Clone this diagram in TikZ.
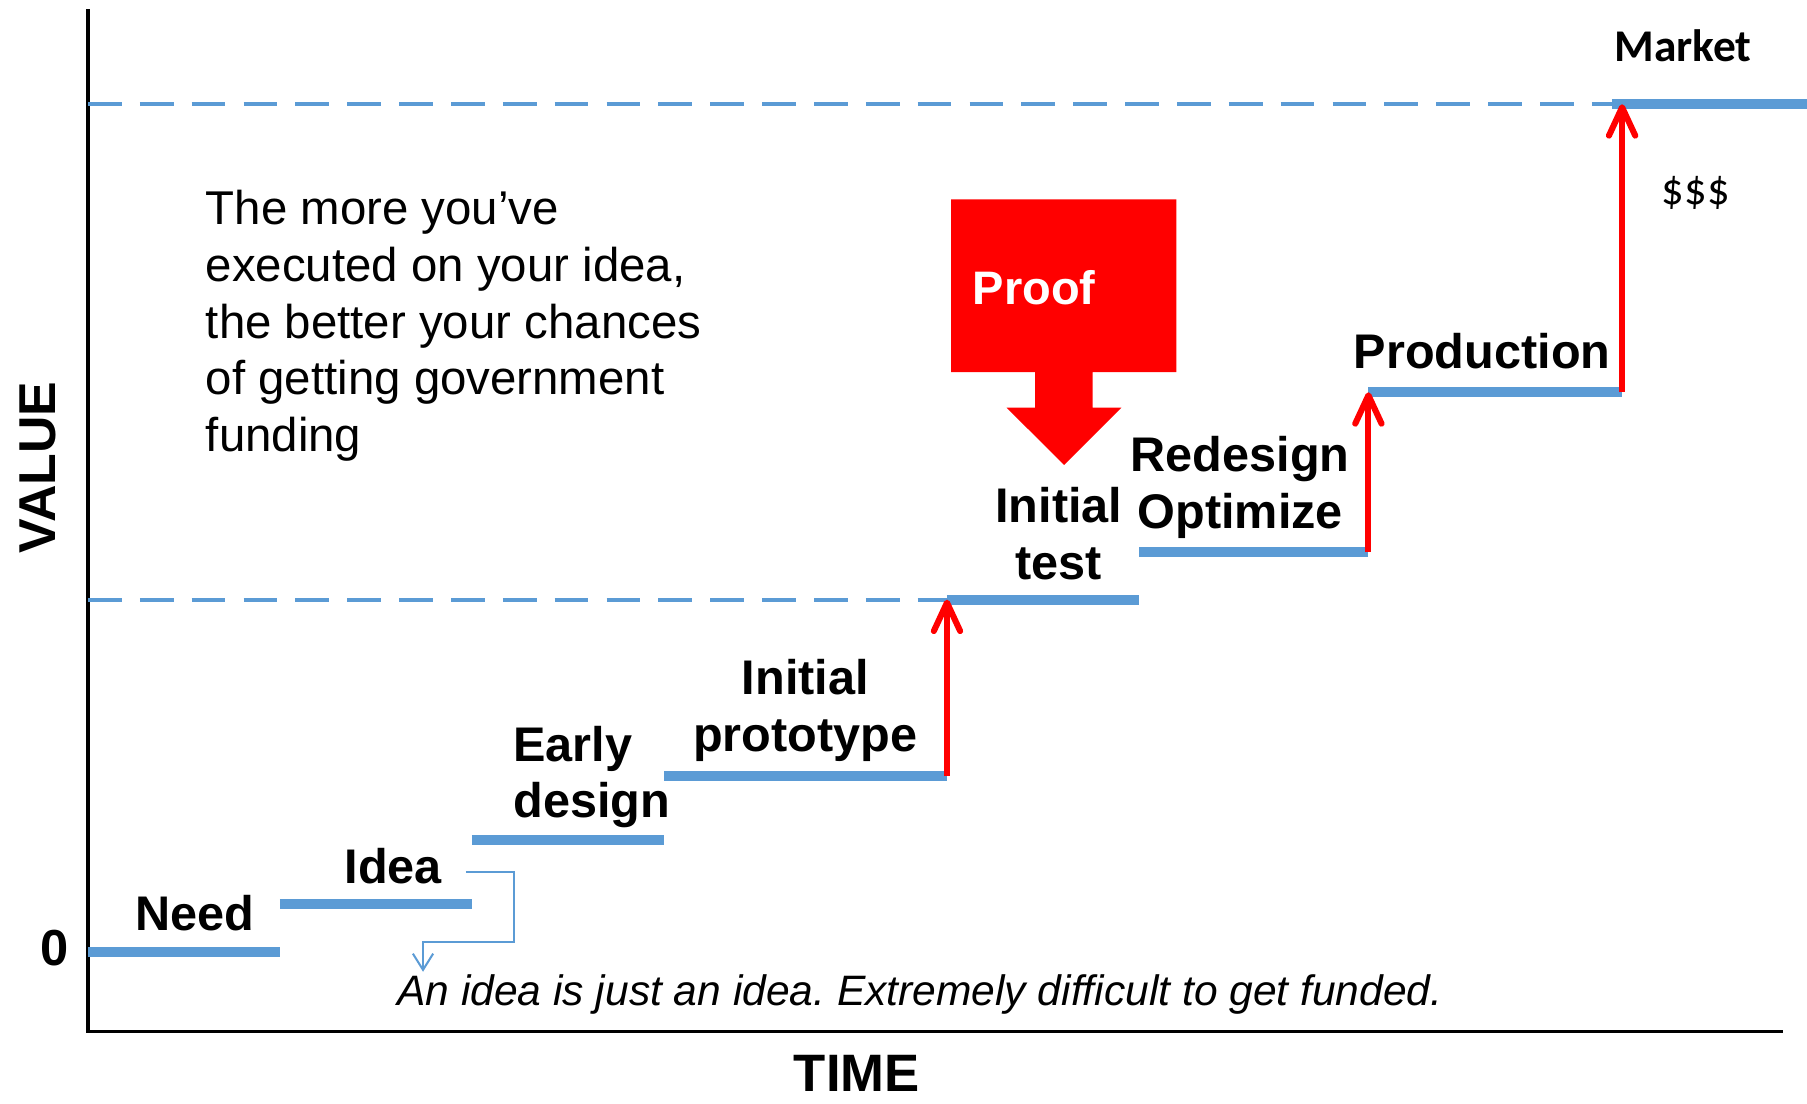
\documentclass[tikz,border=0pt]{standalone}
\usepackage{fontspec}
\setmainfont{Liberation Sans}
\newfontfamily\califont{Carlito}
\usetikzlibrary{positioning, arrows.meta}
\definecolor{stepblue}{RGB}{91,155,213}
\definecolor{proofred}{RGB}{255,0,0}
\frenchspacing
\tikzset{axisln/.style={draw=black, line width=0.75pt}}
\tikzset{stp/.style={draw=stepblue, line width=2.5pt}}
\tikzset{lvl/.style={draw=stepblue, line width=1pt, dash pattern=on 8.3pt off 4.5pt}}
\tikzset{rise/.style={draw=proofred, line width=1.5pt, -{Straight Barb[length=7pt, width=6.5pt, round]}}}
\tikzset{callout/.style={draw=stepblue, line width=0.5pt, -{Straight Barb[length=4pt, width=5pt]}}}
\tikzset{lbl/.style={inner sep=0, align=center, font=\fontsize{12}{14}\selectfont\bfseries}}
\tikzset{body/.style={inner sep=0, align=left, font=\fontsize{11.7}{14}\selectfont}}
\tikzset{note/.style={inner sep=0, font=\fontsize{10.5}{12}\selectfont\itshape}}

\begin{document}
\begin{tikzpicture}[x=0.01cm, y=-0.01cm]
  \useasboundingbox (0,0) rectangle (1568.5,957.5);
  % axes
  \coordinate (O) at (76.4,895.5);
  \draw[axisln] (76.4,8) -- (O) -- (1548,895.5);
  \node[lbl, font=\fontsize{12.8}{14}\selectfont\bfseries, rotate=90] (value) at (32.6,405.8) {VALUE};
  \node[lbl, font=\fontsize{13}{14}\selectfont\bfseries] (time) at (743.7,931.4) {TIME};
  \node[lbl, font=\fontsize{12.5}{14}\selectfont\bfseries] (zero) at (47,823.2) {0};
  % staircase corners
  \coordinate (need0) at (76.4,826.7);  \coordinate (need1) at (243,826.7);
  \coordinate (idea0) at (243,785);     \coordinate (idea1) at (409.6,785);
  \coordinate (early0) at (409.6,729.2);\coordinate (early1) at (576.4,729.2);
  \coordinate (proto0) at (576.4,673.6);\coordinate (proto1) at (822,673.6);
  \coordinate (test0) at (822,520.5);   \coordinate (test1) at (989,520.5);
  \coordinate (redo0) at (989,479.2);   \coordinate (redo1) at (1187.8,479.2);
  \coordinate (prod0) at (1187.8,340.5);\coordinate (prod1) at (1408,340.5);
  \coordinate (mkt0) at (1408,90.5);    \coordinate (mkt1) at (1568.5,90.5);
  % value levels
  \draw[lvl] (O |- test0) -- (test0);
  \draw[lvl] (O |- mkt0) -- (mkt0);
  % steps
  \draw[stp] (need0) -- (need1);
  \draw[stp] (idea0) -- (idea1);
  \draw[stp] (early0) -- (early1);
  \draw[stp] (proto0) -- (proto1);
  \draw[stp] (test0) -- (test1);
  \draw[stp] (redo0) -- (redo1);
  \draw[stp] (prod0) -- (prod1);
  \draw[stp] ([xshift=-2.5]mkt0) -- (mkt1);
  % jumps
  \draw[rise] (proto1) -- (test0);
  \draw[rise] (redo1) -- (prod0);
  \draw[rise] (prod1) -- (mkt0);
  % step labels
  \node[lbl, anchor=base] (need) at (169.5,807.3) {Need};
  \node[lbl, anchor=base] (idea) at (341.4,766.8) {Idea};
  \node[lbl, align=left, anchor=north west] (early) at (445,629.5) {Early\\design};
  \node[lbl, anchor=north] (proto) at (699,571.7) {Initial\\prototype};
  \node[lbl, anchor=north] (test) at (919,422.6) {Initial\\test};
  \node[lbl, anchor=north] (redo) at (1076.5,377.8) {Redesign\\Optimize};
  \node[lbl, anchor=base] (prod) at (1286.5,319.7) {Production};
  \node[inner sep=0, anchor=base, font={\califont\fontsize{11.2}{13}\selectfont\bfseries}] (market) at (1461,53.5) {Market};
  \node[inner sep=0, font={\califont\fontsize{11}{13}\selectfont}] (cash) at (1472,167.7) {\$\$\$};
  % proof
  \fill[proofred] (825.5,173) -- (1021,173) -- (1021,323) -- (948.5,323) -- (948.5,353.9)
    -- (973.4,353.9) -- (923.6,403.6) -- (873.8,353.9) -- (898.5,353.9) -- (898.5,323)
    -- (825.5,323) -- cycle;
  \node[lbl, anchor=base, text=white, font=\fontsize{11.6}{14}\selectfont\bfseries] (proof) at (897.6,264) {Proof};
  % texts
  \node[body, anchor=north west] (blurb) at (178,164.5) {The more you’ve\\executed on your idea,\\the better your chances\\of getting government\\funding};
  \node[note, anchor=base] (remark) at (798.5,873) {An idea is just an idea. Extremely difficult to get funded.};
  \draw[callout] ([shift={(20,-9.6)}]idea.base east) -- ++(41.5,0)
    |- ([shift={(23,-55)}]remark.base west) -- ([shift={(23,-29.5)}]remark.base west);
\end{tikzpicture}
\end{document}
